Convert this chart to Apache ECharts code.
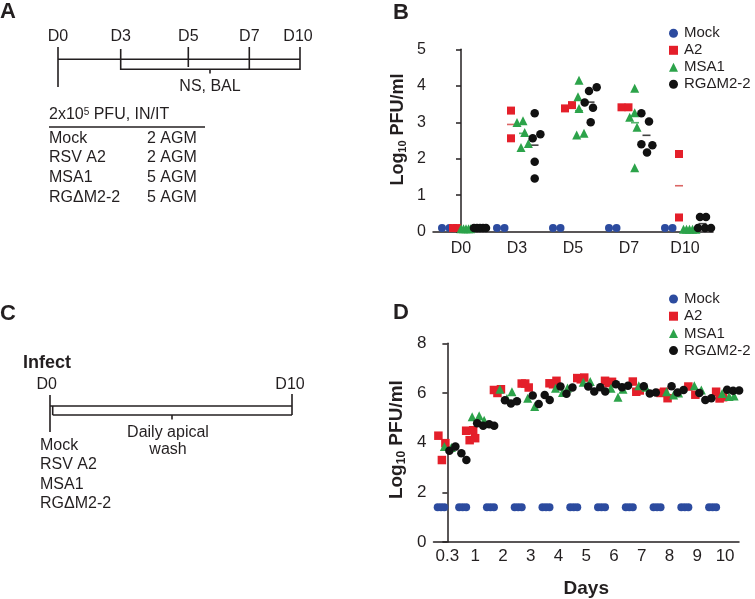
<!DOCTYPE html>
<html>
<head>
<meta charset="utf-8">
<script src="https://cdn.jsdelivr.net/npm/echarts@6/dist/echarts.min.js"></script>
<style>
html,body{margin:0;padding:0;background:#fff;}
#chart{width:755px;height:599px;}
</style>
</head>
<body>
<div id="chart"></div>
<script>
// ---------------- DATA ----------------
const seriesNames = ['Mock', 'A2', 'MSA1', 'RGΔM2-2'];

// Panel B (Log10 PFU/ml per animal)
const bCategories = ['D0', 'D3', 'D5', 'D7', 'D10'];
const bMock = [[0.1, 0.1], [0.1, 0.1], [0.1, 0.1], [0.1, 0.1], [0.1, 0.1]];
const bA2 = [[0.1, 0.1], [3.32, 2.56], [3.38, 3.47], [3.41, 3.41], [2.13, 0.39]];
const bMSA1 = [[0.08, 0.08, 0.08, 0.08, 0.08], [2.99, 3.04, 2.72, 2.31, 2.42], [4.15, 3.70, 3.38, 2.65, 2.70], [3.93, 3.26, 3.14, 2.86, 1.75], [0.07, 0.07, 0.07, 0.07, 0.07]];
const bRG = [[0.1, 0.1, 0.1, 0.1, 0.1], [3.25, 2.56, 2.67, 1.92, 1.46], [3.96, 3.86, 3.54, 3.40, 3.00], [3.25, 3.02, 2.40, 2.37, 2.17], [0.4, 0.4, 0.1, 0.1, 0.1]];
const bYTicks = [0, 1, 2, 3, 4, 5];

// Panel D (Log10 PFU/ml per well, daily)
const dDays = ['0.3', '1', '2', '3', '4', '5', '6', '7', '8', '9', '10'];
const dMock = [[1.4, 1.4, 1.4], [1.4, 1.4, 1.4], [1.4, 1.4, 1.4], [1.4, 1.4, 1.4], [1.4, 1.4, 1.4], [1.4, 1.4, 1.4], [1.4, 1.4, 1.4], [1.4, 1.4, 1.4], [1.4, 1.4, 1.4], [1.4, 1.4, 1.4], [1.4, 1.4, 1.4]];
const dA2 = [[4.28, 3.98, 3.30], [4.48, 4.50, 4.10, 4.18], [6.12, 6.15, 6.00], [6.38, 6.22, 6.38], [6.39, 6.49, 6.35], [6.60, 6.62, 6.55], [6.49, 6.45, 6.40], [6.46, 6.10, 6.05], [6.00, 5.79, 6.05], [6.26, 5.93], [6.05, 5.83, 5.78]];
const dMSA1 = [[3.84, 3.80], [5.04, 5.08, 4.90], [6.15, 5.78, 6.05], [5.79, 5.46], [6.19, 6.02, 6.20], [6.43, 6.46], [6.19, 5.83, 6.15], [6.29, 6.23], [6.05, 5.92, 6.00], [6.29, 6.12], [5.98, 5.86, 5.88]];
const dRG = [[3.67, 3.84, 3.57, 3.30], [4.78, 4.68, 4.74, 4.68], [5.71, 5.58, 5.67], [5.90, 5.56, 5.92, 5.72], [6.26, 5.97, 6.22], [6.26, 6.06, 6.23, 6.06], [6.35, 6.23, 6.29], [6.27, 5.98, 6.02], [6.27, 6.02, 6.12], [6.00, 5.72, 5.79], [6.13, 6.09, 6.10]];
const dYTicks = [0, 2, 4, 6, 8];

// ---------------- LAYOUT / STYLE ----------------
const FONT = '"Liberation Sans", Arial, Helvetica, sans-serif';
const INK = '#231f20';
const COLORS = {Mock: '#2c4b9f', A2: '#e41f2a', MSA1: '#2ca34a', RG: '#111111'};
const B_GRID = {left: 433, top: 49.3, width: 280, height: 182.4};
const D_GRID = {left: 433.5, top: 343.3, width: 305.5, height: 199};
const B_CAT = B_GRID.width / bCategories.length;
const D_CAT = D_GRID.width / dDays.length;

// within-group horizontal spread (pixels) for panel B
const bJit = {
  Mock: [[-19, -11.5], [-20, -12.5], [-20, -12.5], [-20, -12.5], [-20, -12.5]],
  A2: [[-8, -4], [-6, -6], [-8, -1], [-7.5, -0.5], [-6, -6]],
  MSA1: [[0, 2.5, 5, 7.5, 9.5], [0, 6, 7.7, 4, 11.4], [6, 5, 6, 3.7, 11], [5.7, 5.7, 0.7, 8, 5.7], [-1.5, 1.5, 4.5, 7.5, 11]],
  RG: [[13, 16, 19, 22, 25], [17.7, 15.7, 23.4, 17.7, 17.7], [23.7, 16, 11.7, 20, 17.7], [12.4, 20, 12.4, 23.4, 18], [15, 21, 13, 20, 26]]
};
const bMeanOff = {A2: -6, MSA1: 6, RG: 17.5};
// within-group spread (pixels) for panel D
const dJit = {
  MockFirst: [-9.7, -6.4, -3.1],
  Mock: [-16, -12.5, -9],
  A2: [-9, -2, -5.5, 0],
  MSA1: [-3, 4, 9],
  RG: [2, 8, 14, 19]
};

function bPoints(vals, jit) {
  const out = [];
  vals.forEach((grp, gi) => grp.forEach((v, k) => out.push([gi + jit[gi][k] / B_CAT, v])));
  return out;
}
function bMeans(vals, off) {
  return vals.map((grp, gi) => [gi + off / B_CAT, grp.reduce((a, b) => a + b, 0) / grp.length]);
}
function dPoints(vals, jit, firstJit) {
  const out = [];
  vals.forEach((grp, gi) => grp.forEach((v, k) => {
    const j = (gi === 0 && firstJit) ? firstJit[k] : jit[k];
    out.push([gi + j / D_CAT, v]);
  }));
  return out;
}

const axisLineStyle = {color: INK, width: 1.5};
const yName = (size, shift) => ({
  text: '{a|Log}{s|10}{a| PFU/ml}',
  style: {
    fontSize: size, fontWeight: 'bold', fontFamily: FONT, color: INK,
    padding: [0, 0, 0, shift],
    rich: {
      a: {fontSize: size, fontWeight: 'bold', fontFamily: FONT, color: INK},
      s: {fontSize: Math.round(size * 0.62), fontWeight: 'bold', fontFamily: FONT, color: INK, verticalAlign: 'bottom', padding: [9, 0, 0, 0]}
    }
  }
});

function scatter(name, data, xi, yi, symbol, color, size, z) {
  return {name, type: 'scatter', xAxisIndex: xi, yAxisIndex: yi, data, symbol, symbolSize: size,
    itemStyle: {color, opacity: 1}, z: z, clip: false, silent: true, emphasis: {disabled: true}};
}
function meanLine(name, data, color) {
  return {name, type: 'scatter', xAxisIndex: 1, yAxisIndex: 0, data, symbol: 'rect', symbolSize: [8, 1.6],
    itemStyle: {color}, z: 1, clip: false, silent: true, emphasis: {disabled: true}};
}

const txt = (x, y, text, size, opts = {}) => ({
  type: 'text', x, y, silent: true,
  style: Object.assign({text, fill: INK, font: (opts.bold ? 'bold ' : '') + size + 'px ' + FONT,
    align: opts.align || 'left', verticalAlign: 'middle'}, opts.style || {})
});
const ln = (x1, y1, x2, y2) => ({type: 'line', silent: true, shape: {x1, y1, x2, y2}, style: {stroke: INK, lineWidth: 1.6}});

const graphic = [
  // Panel labels
  txt(0, 12, 'A', 22, {bold: true}),
  txt(393, 13, 'B', 22, {bold: true}),
  txt(0, 314, 'C', 22, {bold: true}),
  txt(393, 313, 'D', 22, {bold: true}),
  // Panel A timeline
  txt(58, 37, 'D0', 16, {align: 'center'}),
  txt(120.7, 37, 'D3', 16, {align: 'center'}),
  txt(188.3, 37, 'D5', 16, {align: 'center'}),
  txt(249.3, 37, 'D7', 16, {align: 'center'}),
  txt(298, 37, 'D10', 16, {align: 'center'}),
  ln(58, 59.3, 300, 59.3),
  ln(58, 47, 58, 87),
  ln(120.7, 49, 120.7, 70),
  ln(188.3, 47, 188.3, 67),
  ln(249.3, 47, 249.3, 69.3),
  ln(300, 47, 300, 70),
  ln(120.7, 69.3, 300, 69.3),
  ln(210, 69.3, 210, 73.5),
  txt(210, 87, 'NS, BAL', 16, {align: 'center'}),
  {type: 'text', x: 49, y: 115, silent: true, style: {
    text: '{a|2x10}{p|5}{a| PFU, IN/IT}', align: 'left', verticalAlign: 'middle',
    rich: {a: {fontSize: 16, fontFamily: FONT, fill: INK, color: INK},
           p: {fontSize: 10, fontFamily: FONT, fill: INK, color: INK, verticalAlign: 'top', padding: [0, 0, 6, 0]}}
  }},
  ln(49, 127, 205, 127),
  txt(49, 139, 'Mock', 16), txt(147, 139, '2 AGM', 16),
  txt(49, 158, 'RSV A2', 16), txt(147, 158, '2 AGM', 16),
  txt(49, 178, 'MSA1', 16), txt(147, 178, '5 AGM', 16),
  txt(49, 198, 'RGΔM2-2', 16), txt(147, 198, '5 AGM', 16),
  // Panel C timeline
  txt(23, 363, 'Infect', 18, {bold: true}),
  txt(46.7, 385, 'D0', 16, {align: 'center'}),
  txt(290, 385, 'D10', 16, {align: 'center'}),
  ln(50, 406, 292, 406),
  ln(50, 395, 50, 432),
  ln(292, 394, 292, 415),
  ln(52.7, 406, 52.7, 415),
  ln(52.7, 415, 292, 415),
  ln(172, 415, 172, 419.5),
  txt(168, 433, 'Daily apical', 16, {align: 'center'}),
  txt(168, 450, 'wash', 16, {align: 'center'}),
  txt(40, 446, 'Mock', 16),
  txt(40, 465, 'RSV A2', 16),
  txt(40, 485, 'MSA1', 16),
  txt(40, 504, 'RGΔM2-2', 16)
];

const legendBase = {
  data: seriesNames, orient: 'vertical', left: 664, itemWidth: 9, itemHeight: 9,
  textStyle: {fontSize: 15, fontFamily: FONT, color: INK, lineHeight: 16, padding: [0, 0, 0, 1]}, selectedMode: false
};

const option = {
  animation: false,
  backgroundColor: '#fff',
  textStyle: {fontFamily: FONT},
  grid: [
    Object.assign({containLabel: false}, B_GRID),
    Object.assign({containLabel: false}, D_GRID)
  ],
  legend: [
    Object.assign({}, legendBase, {top: 20.3, itemGap: 1}),
    Object.assign({}, legendBase, {top: 286, itemGap: 1.2})
  ],
  xAxis: [
    {gridIndex: 0, type: 'category', data: bCategories, boundaryGap: true,
     axisLine: {lineStyle: axisLineStyle}, axisTick: {alignWithLabel: true, interval: 0, length: 5, lineStyle: axisLineStyle},
     axisLabel: {interval: 0, fontSize: 16, color: INK, margin: 9, fontFamily: FONT}, splitLine: {show: false}},
    {gridIndex: 0, type: 'value', min: -0.5, max: 4.5, show: false},
    {gridIndex: 1, type: 'category', data: dDays, boundaryGap: true,
     axisLine: {lineStyle: axisLineStyle}, axisTick: {alignWithLabel: true, interval: 0, length: 5, lineStyle: axisLineStyle},
     axisLabel: {interval: 0, hideOverlap: false, fontSize: 17, color: INK, margin: 6, fontFamily: FONT}, splitLine: {show: false},
     name: 'Days', nameLocation: 'middle', nameGap: 37,
     nameTextStyle: {fontSize: 19, fontWeight: 'bold', color: INK, fontFamily: FONT}},
    {gridIndex: 1, type: 'value', min: -0.5, max: 10.5, show: false}
  ],
  yAxis: [
    {gridIndex: 0, type: 'value', min: bYTicks[0], max: bYTicks[bYTicks.length - 1], interval: 1,
     axisLine: {show: true, lineStyle: axisLineStyle}, axisTick: {show: true, length: 5, lineStyle: axisLineStyle},
     axisLabel: {fontSize: 16, color: INK, margin: 7, fontFamily: FONT}, splitLine: {show: false},
     name: yName(18, 22).text, nameLocation: 'middle', nameGap: 25, nameTextStyle: yName(18, 22).style},
    {gridIndex: 1, type: 'value', min: dYTicks[0], max: dYTicks[dYTicks.length - 1], interval: 2,
     axisLine: {show: true, lineStyle: axisLineStyle}, axisTick: {show: true, length: 5, lineStyle: axisLineStyle},
     axisLabel: {fontSize: 17, color: INK, margin: 7, fontFamily: FONT}, splitLine: {show: false},
     name: yName(19, 6).text, nameLocation: 'middle', nameGap: 26, nameTextStyle: yName(19, 6).style}
  ],
  series: [
    // Panel B means
    meanLine('A2 mean', bMeans(bA2, bMeanOff.A2), '#d2403f'),
    meanLine('MSA1 mean', bMeans(bMSA1, bMeanOff.MSA1), COLORS.MSA1),
    meanLine('RG mean', bMeans(bRG, bMeanOff.RG), COLORS.RG),
    // Panel B points
    scatter('Mock', bPoints(bMock, bJit.Mock), 1, 0, 'circle', COLORS.Mock, 8, 2),
    scatter('A2', bPoints(bA2, bJit.A2), 1, 0, 'rect', COLORS.A2, 8, 3),
    scatter('MSA1', bPoints(bMSA1, bJit.MSA1), 1, 0, 'triangle', COLORS.MSA1, 9, 4),
    scatter('RGΔM2-2', bPoints(bRG, bJit.RG), 1, 0, 'circle', COLORS.RG, 8.5, 5),
    // Panel D points
    scatter('Mock', dPoints(dMock, dJit.Mock, dJit.MockFirst), 3, 1, 'circle', COLORS.Mock, 8, 2),
    scatter('A2', dPoints(dA2, dJit.A2), 3, 1, 'rect', COLORS.A2, 8.5, 3),
    scatter('MSA1', dPoints(dMSA1, dJit.MSA1), 3, 1, 'triangle', COLORS.MSA1, 9, 4),
    scatter('RGΔM2-2', dPoints(dRG, dJit.RG), 3, 1, 'circle', COLORS.RG, 8.5, 5)
  ],
  graphic: graphic
};

const chart = echarts.init(document.getElementById('chart'), null, {renderer: 'canvas'});
chart.setOption(option);
</script>
</body>
</html>
